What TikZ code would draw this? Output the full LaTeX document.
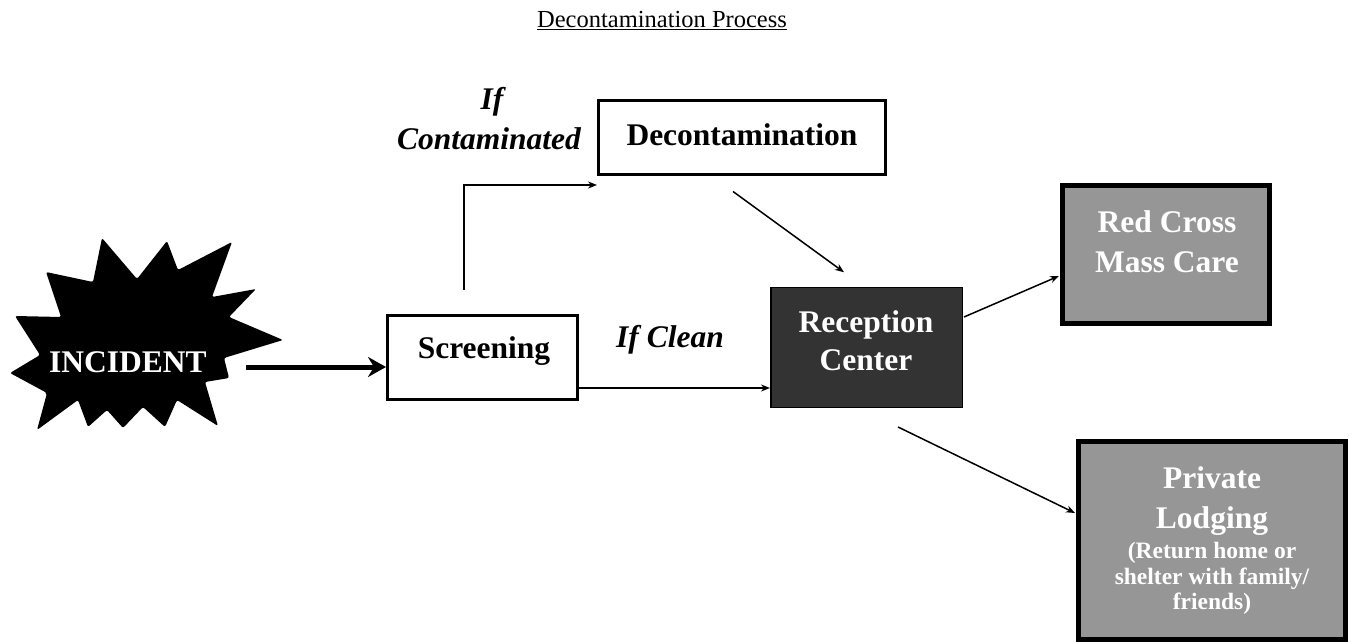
\documentclass[tikz,border=0pt]{standalone}
\usepackage{fontspec}
\setmainfont{Liberation Serif}
\usetikzlibrary{arrows.meta}
\definecolor{darkbox}{HTML}{333333}
\definecolor{greybox}{HTML}{969696}
\begin{document}
\begin{tikzpicture}[x=1pt,y=-1pt,
  box/.style={draw=black, rectangle, inner sep=0pt},
  big/.style={font=\fontsize{31.5}{38}\selectfont\bfseries, inner sep=0pt, anchor=base},
  small/.style={font=\fontsize{23.5}{28}\selectfont\bfseries, inner sep=0pt, anchor=base},
  arr/.style={line width=1.5pt, -{Stealth[length=9pt,width=7pt]}},
  thickarr/.style={line width=5pt, -{Stealth[length=18pt,width=20pt,inset=6pt]}}]
\useasboundingbox (0,0) rectangle (1352,644);
\fill[white] (0,0) rectangle (1352,644);

% title
\node[font=\fontsize{24.5}{29}\selectfont, inner sep=0pt, anchor=base] (title) at (662,28) {\underline{Decontamination Process}};

% starburst
\fill[black, rounded corners=2pt] (102,238) -- (137,279) -- (167,241) -- (178,270) -- (232,242) -- (212,297) -- (256,289) -- (229,317) -- (283,340) -- (224,358) -- (229,378) -- (205,382) -- (218,426) -- (177,400) -- (165,427) -- (143,407) -- (123,428) -- (107,410) -- (88,427) -- (78,400) -- (37,430) -- (47,393) -- (10,373) -- (40,355) -- (15,316) -- (61,317) -- (46,272) -- (93,282) -- cycle;
\node[big, text=white] (incident) at (128,372) {INCIDENT};

% boxes
\node[box, line width=3pt, minimum width=190pt, minimum height=84pt] (screening) at (482.5,357.5) {};
\node[big] (screeningt) at (484,358) {Screening};

\node[box, line width=3pt, minimum width=287pt, minimum height=74pt] (decon) at (742,137.5) {};
\node[big] (decont) at (742,146) {Decontamination};

\node[box, line width=1.5pt, fill=darkbox, minimum width=191.5pt, minimum height=119.5pt] (reception) at (866.5,347.5) {};
\node[big, text=white] (rec1) at (866,332) {Reception};
\node[big, text=white] (rec2) at (866,370) {Center};

\node[box, line width=5pt, fill=greybox, minimum width=207pt, minimum height=138pt] (redcross) at (1166,254.5) {};
\node[big, text=white] (rc1) at (1167,233) {Red Cross};
\node[big, text=white] (rc2) at (1167,273) {Mass Care};

\node[box, line width=5pt, fill=greybox, minimum width=267pt, minimum height=198pt] (private) at (1212,540.5) {};
\node[big, text=white] (pl1) at (1212,488) {Private};
\node[big, text=white] (pl2) at (1212,528) {Lodging};
\node[small, text=white] (pl3) at (1212,558) {(Return home or};
\node[small, text=white] (pl4) at (1212,584) {shelter with family/};
\node[small, text=white] (pl5) at (1212,609) {friends)};

% labels
\node[big, font=\fontsize{31.5}{38}\selectfont\bfseries\itshape] (if1) at (492,110) {If};
\node[big, font=\fontsize{31.5}{38}\selectfont\bfseries\itshape] (if2) at (489,150) {Contaminated};
\node[big, font=\fontsize{31.5}{38}\selectfont\bfseries\itshape] (ifclean) at (670,348) {If Clean};

% connectors
\draw[thickarr] ([shift={(118,-5)}]incident.base) -- ([shift={(0,9.5)}]screening.west);
\coordinate (up) at (464,290);
\draw[arr] (up) |- ([shift={(0,47.5)}]decon.west);
\draw[arr] ([shift={(0,30.5)}]screening.east) -- ([shift={(0,40.5)}]reception.west);
\draw[arr] ([shift={(-9,15.5)}]decon.south) -- ([shift={(-22.5,-14.75)}]reception.north);
\draw[arr] ([shift={(1,-30.5)}]reception.east) -- ([shift={(-1,21.5)}]redcross.west);
\draw[arr] ([shift={(31.5,19)}]reception.south) -- ([shift={(-1,-27.5)}]private.west);
\end{tikzpicture}
\end{document}
